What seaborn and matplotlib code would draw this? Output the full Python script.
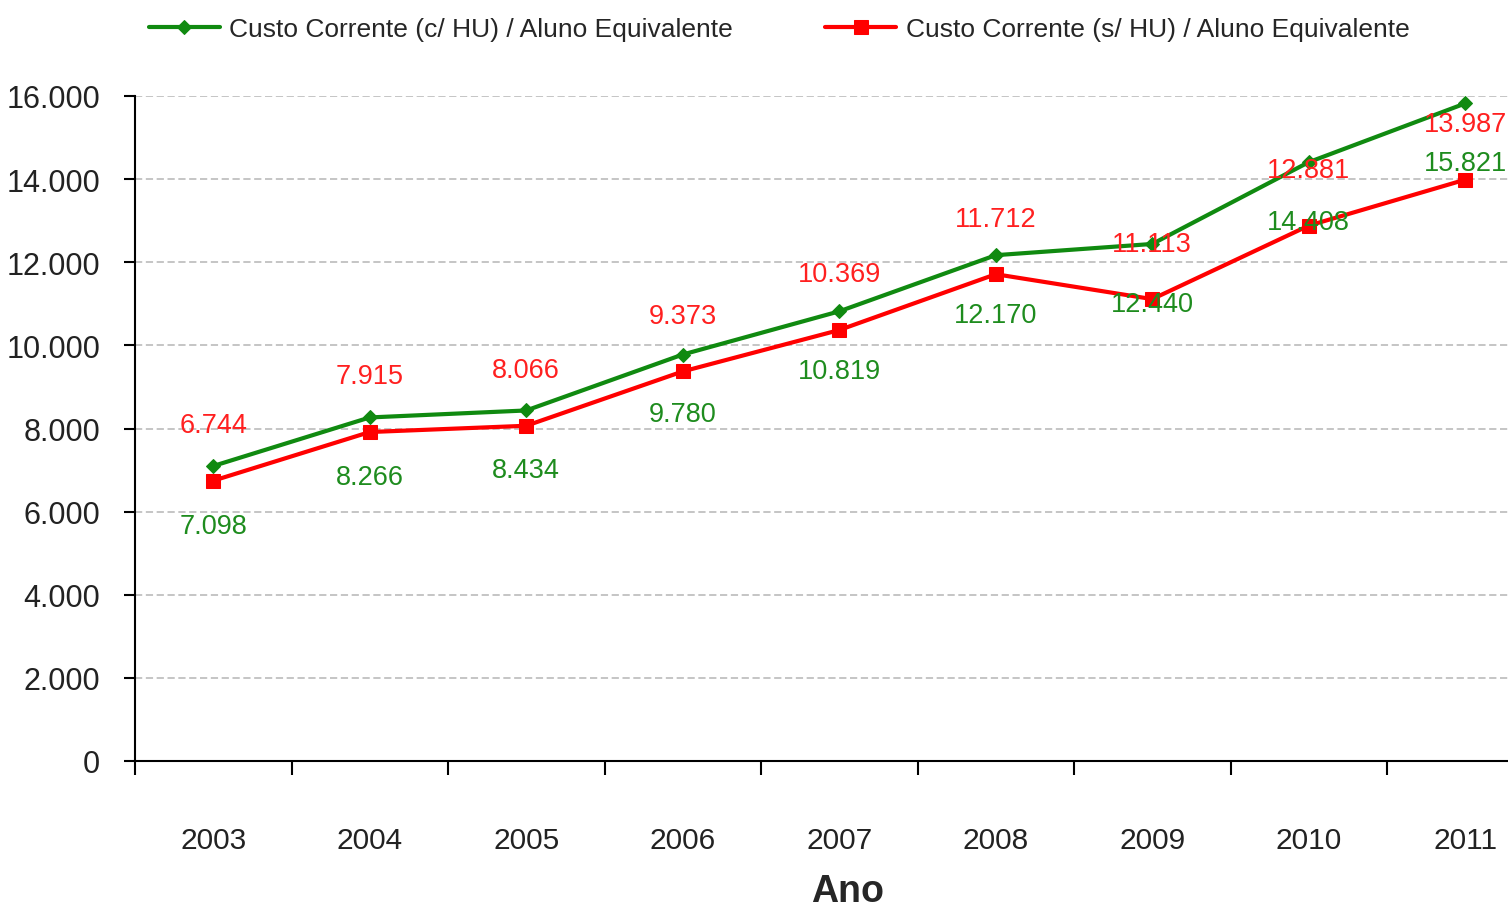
import numpy as np
import pandas as pd
import matplotlib
matplotlib.use("Agg")
import matplotlib.pyplot as plt
from matplotlib.ticker import FuncFormatter, FixedLocator
import seaborn as sns

# Data
anos = [2003, 2004, 2005, 2006, 2007, 2008, 2009, 2010, 2011]
custo_com_hu = [7098, 8266, 8434, 9780, 10819, 12170, 12440, 14408, 15821]
custo_sem_hu = [6744, 7915, 8066, 9373, 10369, 11712, 11113, 12881, 13987]
nome_com_hu = "Custo Corrente (c/ HU) / Aluno Equivalente"
nome_sem_hu = "Custo Corrente (s/ HU) / Aluno Equivalente"

verde = "#108a10"
vermelho = "#ff0000"

sns.set_style("ticks")
plt.rcParams['font.family'] = ['Liberation Sans', 'DejaVu Sans']

df = pd.DataFrame({'Ano': anos, 'com': custo_com_hu, 'sem': custo_sem_hu})

fig = plt.figure(figsize=(15.08, 9.12), dpi=100)
ax = fig.add_axes([135 / 1508, 150 / 912, 1408.5 / 1508, 665 / 912])

sns.lineplot(data=df, x='Ano', y='com', ax=ax, color=verde, lw=3, marker='D',
             markersize=7, markeredgecolor=verde, label=nome_com_hu)
sns.lineplot(data=df, x='Ano', y='sem', ax=ax, color=vermelho, lw=3, marker='s',
             markersize=10.5, markeredgecolor=vermelho, label=nome_sem_hu)

fmt = lambda v: f"{v:,.0f}".replace(",", ".")

# data labels: green below its point, red above its point
for a, v in zip(anos, custo_com_hu):
    ax.annotate(fmt(v), (a, v), xytext=(0, -43), textcoords='offset points',
                ha='center', va='center', fontsize=19.5, color='#1e8c1e')
for a, v in zip(anos, custo_sem_hu):
    ax.annotate(fmt(v), (a, v), xytext=(0, 40), textcoords='offset points',
                ha='center', va='center', fontsize=19.5, color='#ff2020')

ax.set_xlim(anos[0] - 0.5, anos[-1] + 0.5)
ax.set_ylim(0, 16000)
ax.set_yticks(np.arange(0, 16001, 2000))
ax.yaxis.set_major_formatter(FuncFormatter(lambda v, p: fmt(v)))

ax.set_xticks(anos)
ax.set_xticklabels([str(a) for a in anos])
ax.xaxis.set_minor_locator(FixedLocator([a - 0.5 for a in anos] + [anos[-1] + 0.5]))
ax.tick_params(axis='x', which='major', length=0, pad=47, labelsize=21.5, labelcolor='#222222')
ax.tick_params(axis='x', which='minor', bottom=True, length=10, width=1.5, color='black')
ax.tick_params(axis='y', which='major', left=True, length=8, width=1.5, pad=17,
               labelsize=22, labelcolor='#222222', color='black')

ax.yaxis.grid(True, linestyle=(0, (4, 2)), color='#c0c0c0', lw=1.3)
ax.set_axisbelow(True)
for s in ['top', 'right']:
    ax.spines[s].set_visible(False)
for s in ['left', 'bottom']:
    ax.spines[s].set_color('black')
    ax.spines[s].set_linewidth(1.5)

ax.set_ylabel('')
ax.set_xlabel('Ano', fontsize=27, fontweight='bold', labelpad=0)
ax.xaxis.set_label_coords((848 - 135) / 1408.5, -0.168)

leg = ax.legend(loc='center', bbox_to_anchor=(779 / 1508, 1 - 30 / 912),
                bbox_transform=fig.transFigure, ncol=2, frameon=False,
                fontsize=19, handlelength=2.7, columnspacing=3.5, handletextpad=0.35)

fig.savefig('out.png', dpi=100)
